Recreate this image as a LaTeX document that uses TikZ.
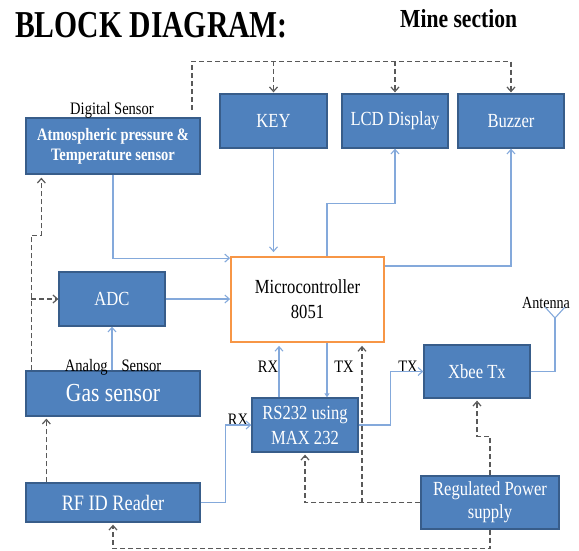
\documentclass[tikz,border=0pt]{standalone}
\usepackage{fontspec}
\setmainfont{Liberation Serif}
\newfontfamily\dgfont[FakeStretch=0.83]{Liberation Serif}
\newfontfamily\dgtitlefont[FakeStretch=0.78]{Liberation Serif}
\usetikzlibrary{arrows.meta,calc}
\definecolor{boxblue}{HTML}{4F81BD}
\definecolor{boxedge}{HTML}{385D8A}
\definecolor{linkblue}{HTML}{84A9DB}
\definecolor{mcuorange}{HTML}{F79646}
\definecolor{dashgray}{HTML}{595959}
\tikzset{
  blk/.style={draw=boxedge, line width=1.3pt, fill=boxblue, text=white,
    font=\dgfont\fontsize{20}{25}\selectfont, align=center, inner sep=0pt},
  mcu/.style={draw=mcuorange, line width=1.8pt, fill=white, text=black,
    font=\dgfont\fontsize{20}{25}\selectfont, align=center, inner sep=0pt},
  lbl/.style={font=\dgfont\fontsize{17.5}{20}\selectfont, text=black, inner sep=0pt},
  linkplain/.style={draw=linkblue, line width=1.1pt},
  link/.style={linkplain, -{Straight Barb[length=4.5pt,width=8pt]}},
  linkfill/.style={linkplain, -{Triangle[length=4pt,width=5pt]}},
  pwrplain/.style={draw=dashgray, line width=1.2pt, dash pattern=on 5pt off 3pt},
  pwr/.style={pwrplain, -{Straight Barb[length=4.5pt,width=8pt]}},
}
\begin{document}
\begin{tikzpicture}[x=1pt,y=-1pt]
\useasboundingbox (0,0) rectangle (579,550);
% titles
\node[anchor=base west, inner sep=0pt, font=\dgtitlefont\bfseries\fontsize{38}{40}\selectfont] (title) at (15,37) {BLOCK DIAGRAM:};
\node[anchor=base west, inner sep=0pt, font=\dgfont\bfseries\fontsize{26}{28}\selectfont] (mine) at (400,27) {Mine section};
% blocks
\node[blk, minimum width=174pt, minimum height=56pt, font=\dgfont\bfseries\fontsize{17.5}{20}\selectfont] (atmos) at (113,146) {Atmospheric pressure \&\\Temperature sensor};
\node[blk, minimum width=107pt, minimum height=54pt] (key) at (273.5,121) {KEY};
\node[blk, minimum width=106pt, minimum height=54pt] (lcd) at (395,121) {LCD Display};
\node[blk, minimum width=106pt, minimum height=54pt] (buzzer) at (511,121) {Buzzer};
\node[blk, minimum width=106pt, minimum height=54pt] (adc) at (112,299) {ADC};
\node[mcu, minimum width=153pt, minimum height=85pt] (micro) at (307.5,299.5) {Microcontroller\\8051};
\node[blk, minimum width=174pt, minimum height=45pt, font=\dgfont\fontsize{26}{28}\selectfont] (gas) at (113,393.5) {Gas sensor};
\node[blk, minimum width=106pt, minimum height=54pt] (rs232) at (305,425) {RS232 using\\MAX 232};
\node[blk, minimum width=106pt, minimum height=53pt] (xbee) at (477,371.5) {Xbee Tx};
\node[blk, minimum width=174pt, minimum height=39pt, font=\dgfont\fontsize{22}{24}\selectfont] (rfid) at (113,502.5) {RF ID Reader};
\node[blk, minimum width=138pt, minimum height=53pt, font=\dgfont\fontsize{20}{23}\selectfont] (power) at (490,502.5) {Regulated Power\\supply};
% labels
\node[lbl] (digital) at (112,110) {Digital Sensor};
\node[lbl] (analog) at (113,367) {Analog\hspace{14pt}Sensor};
\node[lbl] (rx1) at (268,367) {RX};
\node[lbl] (tx1) at (344,367) {TX};
\node[lbl] (tx2) at (408,367) {TX};
\node[lbl] (rx2) at (238,420) {RX};
\node[lbl, font=\dgfont\fontsize{17}{20}\selectfont] (antenna) at (546,303) {Antenna};
% blue signal links
\draw[link] (atmos.south) |- ($(micro.north west)+(0,2)$);
\draw[link] (key.south) -- ($(key.south |- micro.north)+(0,-4)$);
\coordinate (mt) at ($(micro.north)+(19.5,0)$);
\draw[link] (mt) |- ($(lcd.south)+(0,55)$) -- (lcd.south);
\draw[link] ($(micro.east)+(0,-33.5)$) -| (buzzer.south);
\draw[link] (adc.east) -- (adc.east -| micro.west);
\draw[link] (adc.south |- gas.north) -- (adc.south);
\coordinate (mb) at ($(micro.south)+(19.5,0)$);
\draw[linkfill] (mb) -- (mb |- rs232.north);
\coordinate (rxs) at ($(rs232.north)+(-26,0)$);
\draw[link] (rxs) -- ($(rxs |- micro.south)+(0,3)$);
\draw[link] (rfid.east) -| ($(rs232.west)+(-26,0)$) -- (rs232.west);
\draw[link] (rs232.east) -| ($(xbee.west)+(-33,0)$) -- (xbee.west);
% antenna
\coordinate (ant) at (555,318);
\coordinate (antl) at (545,307);
\coordinate (antr) at (565,307);
\draw[linkplain] (xbee.east) -| (ant);
\draw[linkplain] (antl) -- (ant) -- (antr);
% dashed power lines
\coordinate (bus0) at (192,110);
\coordinate (busend) at ($(buzzer.north)+(0,-32)$);
\draw[pwr] (bus0) |- (busend) -- ($(buzzer.north)+(0,-1)$);
\draw[pwr] (key.north |- busend) -- ($(key.north)+(0,-1)$);
\draw[pwr] (lcd.north |- busend) -- ($(lcd.north)+(0,-1)$);
\coordinate (g1) at ($(gas.north west)+(6,0)$);
\draw[pwr] (g1) -- ++(0,-135) -| ($(atmos.south west)+(16,3)$);
\draw[pwr] (g1 |- adc.west) -- (adc.west);
\draw[pwr] ($(rfid.north west)+(21,0)$) -- ($(gas.south west)+(21,2)$);
\draw[pwr] (power.west) -| ($(rs232.south)+(0,2)$);
\coordinate (mdash) at ($(micro.south)+(54.5,0)$);
\draw[pwr] (mdash |- power.west) -- ($(mdash)+(0,3)$);
\draw[pwr] (power.north) -- ++(0,-39) -| ($(xbee.south)+(0,2)$);
\draw[pwr] (power.south) -- ++(0,19) -| ($(rfid.south)+(0,2)$);
\end{tikzpicture}
\end{document}
